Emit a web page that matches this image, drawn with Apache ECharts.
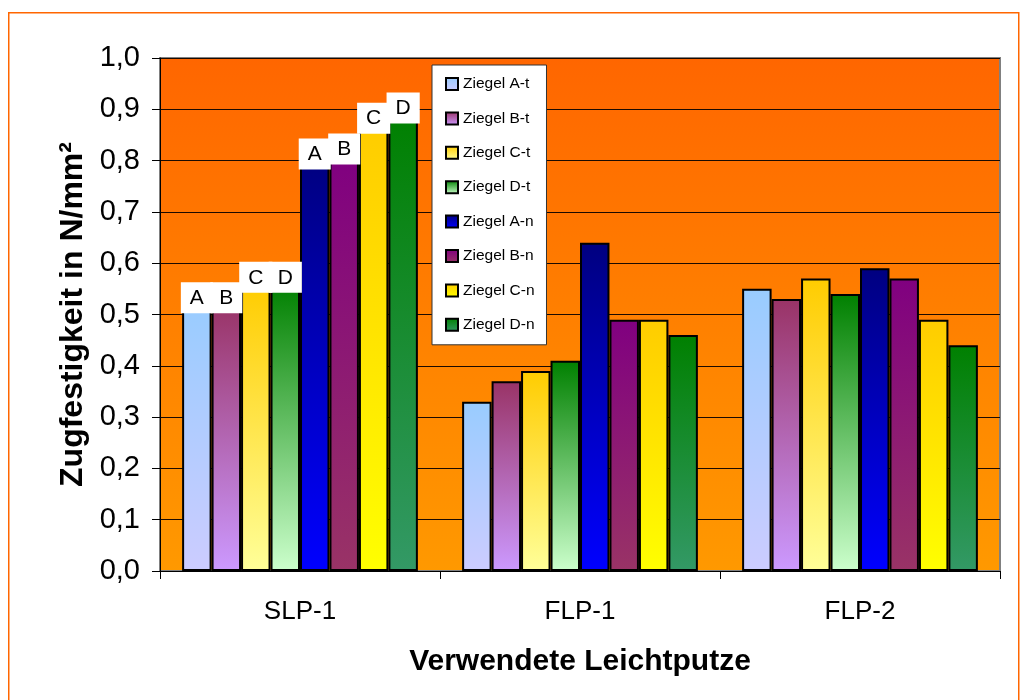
<!DOCTYPE html>
<html>
<head>
<meta charset="utf-8">
<script src="https://cdn.jsdelivr.net/npm/echarts@6/dist/echarts.min.js"></script>
<style>
html,body{margin:0;padding:0;background:#fff;}
#c{width:1026px;height:700px;}
</style>
</head>
<body>
<div id="c"></div>
<script>
// ---- data ----
var categories = ['SLP-1', 'FLP-1', 'FLP-2'];
var seriesNames = ['Ziegel A-t', 'Ziegel B-t', 'Ziegel C-t', 'Ziegel D-t', 'Ziegel A-n', 'Ziegel B-n', 'Ziegel C-n', 'Ziegel D-n'];
var zA_t = [0.52, 0.33, 0.55];
var zB_t = [0.52, 0.37, 0.53];
var zC_t = [0.56, 0.39, 0.57];
var zD_t = [0.56, 0.41, 0.54];
var zA_n = [0.80, 0.64, 0.59];
var zB_n = [0.81, 0.49, 0.57];
var zC_n = [0.87, 0.49, 0.49];
var zD_n = [0.89, 0.46, 0.44];
var barLetters = ['A', 'B', 'C', 'D', 'A', 'B', 'C', 'D'];
var yTicks = [0, 0.1, 0.2, 0.3, 0.4, 0.5, 0.6, 0.7, 0.8, 0.9, 1.0];

var values = [zA_t, zB_t, zC_t, zD_t, zA_n, zB_n, zC_n, zD_n];
var gradients = [
  ['#99CCFF', '#CCCCFF'],
  ['#993366', '#CC99FF'],
  ['#FFCC00', '#FFFF99'],
  ['#008000', '#CCFFCC'],
  ['#000080', '#0000FF'],
  ['#800080', '#993366'],
  ['#FFCC00', '#FFFF00'],
  ['#008000', '#339966']
];

function grad(c) {
  return { type: 'linear', x: 0, y: 0, x2: 0, y2: 1,
    colorStops: [{ offset: 0, color: c[0] }, { offset: 1, color: c[1] }] };
}

var font = 'Liberation Sans, Arial, sans-serif';
var series = seriesNames.map(function (name, i) {
  return {
    name: name,
    type: 'bar',
    barGap: '0%',
    barCategoryGap: '15.8%',
    itemStyle: { color: grad(gradients[i]), borderColor: '#000', borderWidth: 2 },
    data: values[i].map(function (v, j) {
      var d = { value: v };
      if (j === 0) {
        d.label = {
          show: true, position: 'top', distance: 0, offset: [0, 9],
          formatter: barLetters[i], color: '#000', fontSize: 21,
          fontFamily: font,
          backgroundColor: '#fff', padding: [5, 9, 4, 9], lineHeight: 22
        };
      }
      return d;
    })
  };
});

var chart = echarts.init(document.getElementById('c'), null, { renderer: 'canvas' });
chart.setOption({
  animation: false,
  textStyle: { fontFamily: font },
  graphic: [{
    type: 'rect', left: 8, top: 12, z: -10,
    shape: { width: 1010, height: 720 },
    style: { fill: '#fff', stroke: '#FF6600', lineWidth: 1.5 }
  }],
  grid: {
    left: 160, top: 58, width: 840, height: 513, show: true,
    backgroundColor: { type: 'linear', x: 0, y: 0, x2: 0, y2: 1,
      colorStops: [{ offset: 0, color: '#FF6600' }, { offset: 1, color: '#FF9900' }] },
    borderColor: '#808080', borderWidth: 2
  },
  legend: {
    orient: 'vertical', left: 432, top: 65,
    data: seriesNames,
    icon: 'rect', itemWidth: 12, itemHeight: 12, itemGap: 18.4,
    backgroundColor: '#fff', borderColor: '#333', borderWidth: 1,
    padding: [11, 12, 12, 13],
    textStyle: { fontSize: 15.5, color: '#000', fontFamily: font }
  },
  xAxis: {
    type: 'category', data: categories, boundaryGap: true,
    axisLine: { show: true, lineStyle: { color: '#000', width: 1 } },
    axisTick: { show: true, length: 8, lineStyle: { color: '#000' } },
    axisLabel: { fontSize: 26, color: '#000', margin: 28, fontFamily: font },
    name: 'Verwendete Leichtputze', nameLocation: 'middle', nameGap: 76,
    nameTextStyle: { fontSize: 30, fontWeight: 'bold', color: '#000', fontFamily: font }
  },
  yAxis: {
    type: 'value', min: 0, max: 1, interval: 0.1,
    axisLine: { show: true, lineStyle: { color: '#000', width: 1 } },
    axisTick: { show: true, length: 8, lineStyle: { color: '#000' } },
    axisLabel: {
      fontSize: 29, color: '#000', margin: 20, fontFamily: font,
      formatter: function (v) {
        var t = yTicks.reduce(function (a, b) { return Math.abs(b - v) < Math.abs(a - v) ? b : a; });
        return t.toFixed(1).replace('.', ',');
      }
    },
    splitLine: { show: true, lineStyle: { color: '#1a0a00', width: 1 } },
    name: 'Zugfestigkeit in N/mm²', nameLocation: 'middle', nameGap: 67,
    nameTextStyle: { fontSize: 32, fontWeight: 'bold', color: '#000', fontFamily: font }
  },
  series: series
});
</script>
</body>
</html>
